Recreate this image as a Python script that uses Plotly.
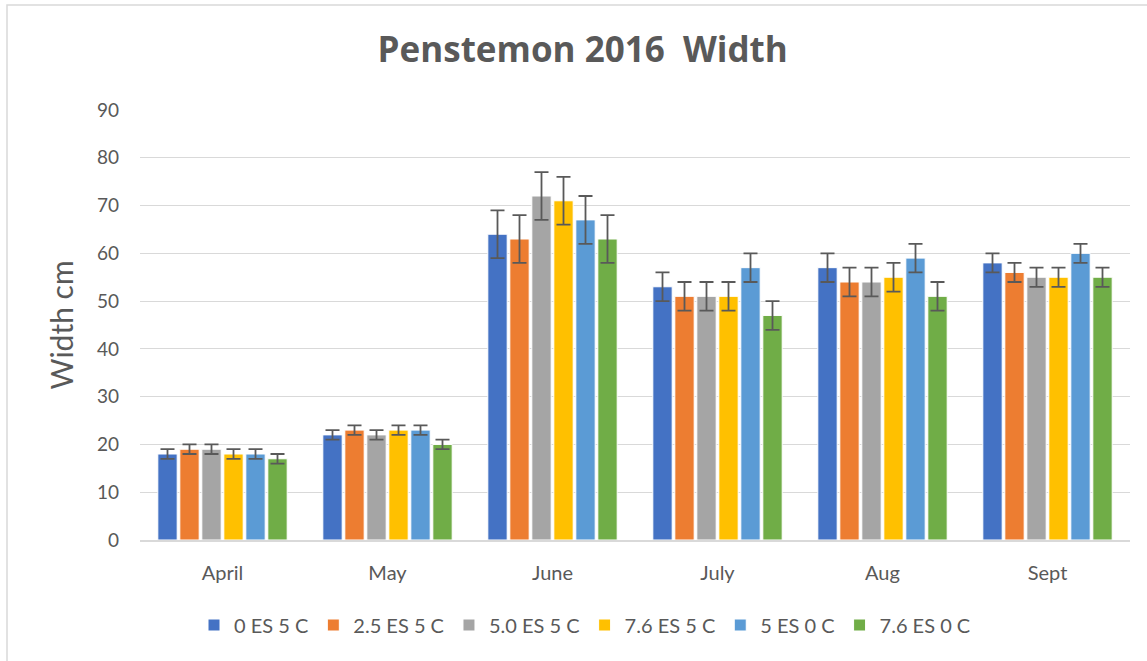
import plotly.graph_objects as go

months = ["April", "May", "June", "July", "Aug", "Sept"]
series_names = ["0 ES 5 C", "2.5 ES 5 C", "5.0 ES 5 C", "7.6 ES 5 C", "5 ES 0 C", "7.6 ES 0 C"]
colors = ["#4472C4", "#ED7D31", "#A5A5A5", "#FFC000", "#5B9BD5", "#70AD47"]

s0 = [18, 22, 64, 53, 57, 58]
s1 = [19, 23, 63, 51, 54, 56]
s2 = [19, 22, 72, 51, 54, 55]
s3 = [18, 23, 71, 51, 55, 55]
s4 = [18, 23, 67, 57, 59, 60]
s5 = [17, 20, 63, 47, 51, 55]
values = [s0, s1, s2, s3, s4, s5]

errors = [1, 1, 5, 3, 3, 2]

fig = go.Figure()
for name, col, vals in zip(series_names, colors, values):
    fig.add_trace(go.Bar(
        x=months, y=vals, name=name,
        marker=dict(color=col, line=dict(color="white", width=1)),
        error_y=dict(type="data", array=errors, visible=True,
                     color="#595959", thickness=1.8, width=7),
    ))

W, H = 1147, 661
L, R, T, B = 140, 17, 110, 121
pw = W - L - R
ph = H - T - B

fig.update_layout(
    width=W, height=H,
    margin=dict(l=L, r=R, t=T, b=B),
    paper_bgcolor="white", plot_bgcolor="white",
    barmode="group", bargap=0.2, bargroupgap=0.12,
    title=dict(text="<b>Penstemon 2016  Width</b>", x=0.508, xanchor="center",
               y=1 - 50 / H, yanchor="middle",
               font=dict(family="Open Sans", size=35, color="#595959")),
    font=dict(family="Lato", color="#595959"),
    xaxis=dict(showgrid=False, showline=True, linecolor="#D9D9D9", linewidth=1.5,
               tickfont=dict(size=20, color="#595959"), ticks="",
               ticklabelstandoff=14),
    yaxis=dict(range=[0, 90], dtick=10, showgrid=True, gridcolor="#D9D9D9",
               gridwidth=1.3, zeroline=False, ticks="",
               tickfont=dict(size=19, color="#595959"), ticklabelstandoff=20,
               title=dict(text="Width cm", font=dict(size=30, color="#595959"), standoff=14)),
    legend=dict(orientation="h", x=(585 - L) / pw, xanchor="center",
                y=-(625 - (T + ph)) / ph, yanchor="middle",
                font=dict(size=20, color="#595959"), itemwidth=30,
                traceorder="normal"),
    shapes=[dict(type="rect", xref="paper", yref="paper",
                 x0=(7 - L) / pw, x1=(W + 5 - L) / pw,
                 y0=(T + ph - (H + 5)) / ph, y1=(T + ph - 5) / ph,
                 line=dict(color="#D9D9D9", width=1.5), fillcolor="rgba(0,0,0,0)",
                 layer="below")],
)

fig.write_html("out.html", config={"displayModeBar": False},
               post_script="document.body.style.margin='0';")
